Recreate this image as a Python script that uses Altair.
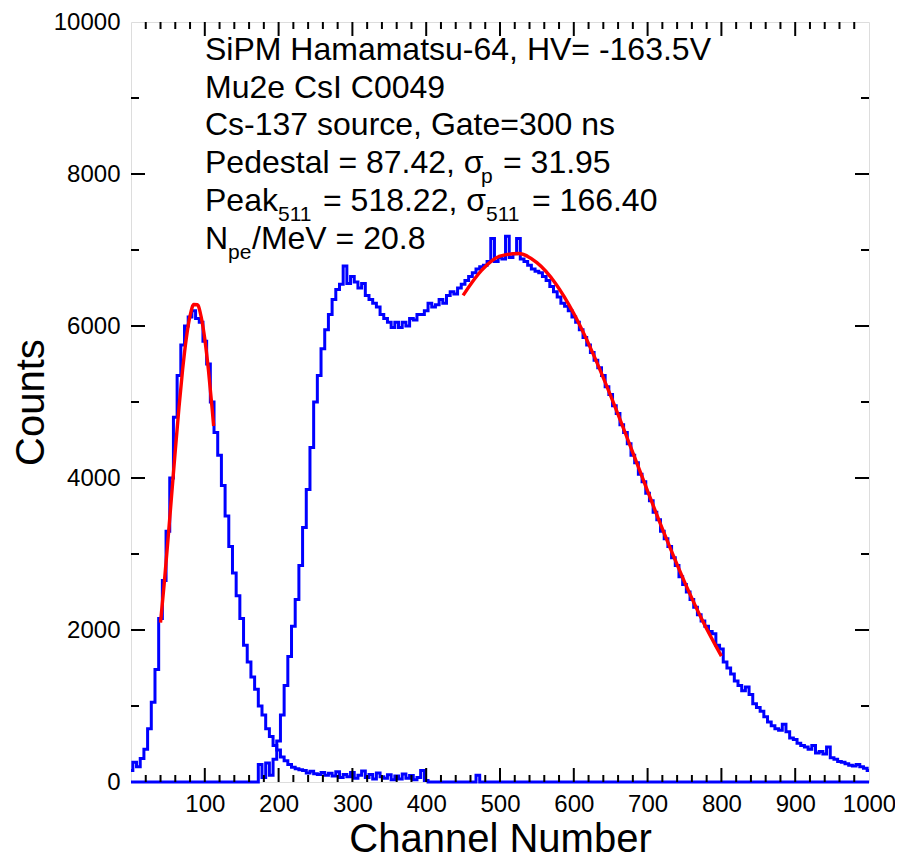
import altair as alt
import pandas as pd

FONT = "Liberation Sans"

# ---------------- data ----------------
# pedestal run (blue, left peak)
ped_ch = [0, 5, 10, 15, 20, 25, 30, 35, 40, 45,
          50, 55, 60, 65, 70, 75, 80, 85, 90, 95,
          100, 105, 110, 115, 120, 125, 130, 135, 140, 145,
          150, 155, 160, 165, 170, 175, 180, 185, 190, 195,
          200, 205, 210, 215, 220, 225, 230, 235, 240, 245,
          250, 255, 260, 265, 270, 275, 280, 285, 290, 295,
          300, 305, 310, 315, 320, 325, 330, 335, 340, 345,
          350, 355, 360, 365, 370, 375, 380, 385, 390, 395,
          400, 405, 465, 470, 475, 1000]
ped_counts = [150, 260, 200, 310, 430, 700, 1050, 1480, 2150, 2650,
              3300, 4000, 4800, 5350, 5750, 6000, 6120, 6200, 6100, 6050,
              5800, 5500, 5000, 4600, 4300, 3900, 3500, 3100, 2750, 2450,
              2150, 1800, 1580, 1380, 1220, 1000, 880, 700, 600, 480,
              420, 330, 280, 230, 195, 175, 160, 150, 120, 140,
              110, 100, 125, 90, 115, 80, 135, 60, 100, 70,
              125, 50, 90, 145, 60, 100, 40, 120, 70, 50,
              95, 30, 80, 40, 105, 50, 85, 30, 60, 150,
              20, 0, 0, 90, 0, 0]

# Cs-137 source run (blue, right spectrum)
src_ch = [0, 170,
          175, 180, 185, 190, 195, 200, 205, 210, 215, 220,
          225, 230, 235, 240, 245, 250, 255, 260, 265, 270,
          275, 280, 285, 290, 295, 300, 305, 310, 315, 320,
          325, 330, 335, 340, 345, 350, 355, 360, 365, 370,
          375, 380, 385, 390, 395, 400, 405, 410, 415, 420,
          425, 430, 435, 440, 445, 450, 455, 460, 465, 470,
          475, 480, 485, 490, 495, 500, 505, 510, 515, 520,
          525, 530, 535, 540, 545, 550, 555, 560, 565, 570,
          575, 580, 585, 590, 595, 600, 605, 610, 615, 620,
          625, 630, 635, 640, 645, 650, 655, 660, 665, 670,
          675, 680, 685, 690, 695, 700, 705, 710, 715, 720,
          725, 730, 735, 740, 745, 750, 755, 760, 765, 770,
          775, 780, 785, 790, 795, 800, 805, 810, 815, 820,
          825, 830, 835, 840, 845, 850, 855, 860, 865, 870,
          875, 880, 885, 890, 895, 900, 905, 910, 915, 920,
          925, 930, 935, 940, 945, 950, 955, 960, 965, 970,
          975, 980, 985, 990, 995, 1000]
src_counts = [0, 0,
              230, 60, 250, 90, 300, 540, 880, 1270, 1650, 2050,
              2400, 2850, 3350, 3850, 4400, 5000, 5350, 5700, 5950, 6150,
              6350, 6480, 6550, 6790, 6560, 6650, 6580, 6500, 6560, 6400,
              6350, 6300, 6250, 6150, 6100, 6050, 5980, 6050, 5980, 6050,
              6000, 6100, 6080, 6150, 6150, 6200, 6300, 6250, 6280, 6350,
              6300, 6400, 6450, 6420, 6500, 6550, 6600, 6650, 6700, 6750,
              6780, 6800, 6850, 7150, 6850, 6900, 6880, 7180, 6900, 6950,
              7150, 6880, 6850, 6800, 6750, 6720, 6700, 6650, 6600, 6520,
              6450, 6380, 6300, 6260, 6200, 6120, 6050, 5950, 5850, 5750,
              5650, 5550, 5450, 5350, 5200, 5100, 4950, 4850, 4700, 4600,
              4450, 4300, 4200, 4050, 3950, 3800, 3700, 3550, 3450, 3300,
              3200, 3100, 2950, 2850, 2700, 2600, 2500, 2400, 2300, 2200,
              2120, 2050, 1980, 1950, 1800, 1750, 1580, 1500, 1420, 1330,
              1270, 1200, 1250, 1150, 1030, 980, 930, 860, 790, 740,
              700, 680, 760, 660, 580, 560, 510, 480, 460, 430,
              480, 380, 400, 370, 460, 320, 300, 270, 260, 240,
              220, 210, 230, 200, 180, 150]

# red fit curves
fit_ped_ch = [40, 45, 50, 55, 60, 65, 70, 75, 80, 85, 90, 95, 100, 105, 110, 112]
fit_ped_counts = [2096, 2611, 3175, 3767, 4361, 4927, 5432, 5843, 6133, 6282,
                  6279, 6124, 5828, 5412, 4906, 4684]
fit_pk_ch = [450, 475, 500, 525, 550, 575, 600, 625, 650, 675, 700, 725, 750, 775, 800]
fit_pk_counts = [6403, 6731, 6919, 6954, 6833, 6563, 6164, 5660, 5081, 4460,
                 3827, 3211, 2634, 2112, 1656]

# axis ticks / labels
x_labels = [100, 200, 300, 400, 500, 600, 700, 800, 900, 1000]
y_labels = [0, 2000, 4000, 6000, 8000, 10000]
x_major = [100, 200, 300, 400, 500, 600, 700, 800, 900]
x_minor = [20, 40, 60, 80, 120, 140, 160, 180, 220, 240, 260, 280, 320, 340, 360, 380,
           420, 440, 460, 480, 520, 540, 560, 580, 620, 640, 660, 680, 720, 740, 760, 780,
           820, 840, 860, 880, 920, 940, 960, 980]
y_major = [2000, 4000, 6000, 8000]
y_minor = [1000, 3000, 5000, 7000, 9000]

W, H = 738, 760

# ---------------- scales / axes ----------------
xs = alt.Scale(domain=[0, 1000], nice=False, zero=False)
ys = alt.Scale(domain=[0, 10000], nice=False)

X = alt.X("ch:Q", scale=xs, axis=alt.Axis(
    values=x_labels, format="d", ticks=False, domain=False, grid=False,
    labelFont=FONT, labelFontSize=24, labelColor="black", labelPadding=10,
    labelFlush=False, labelOverlap=False,
    title="Channel Number", titleFont=FONT, titleFontSize=40, titleFontWeight="normal",
    titleColor="black", titleY=69, titleBaseline="alphabetic"))
Y = alt.Y("counts:Q", scale=ys, axis=alt.Axis(
    values=y_labels, format="d", ticks=False, domain=False, grid=False,
    labelFont=FONT, labelFontSize=24, labelColor="black", labelPadding=11,
    labelFlush=False, labelOverlap=False,
    title="Counts", titleFont=FONT, titleFontSize=40, titleFontWeight="normal",
    titleColor="black", titleX=-88, titleY=H / 2, titleAngle=270,
    titleBaseline="alphabetic", titleAlign="center"))

ped = pd.DataFrame({"ch": ped_ch, "counts": ped_counts})
src = pd.DataFrame({"ch": src_ch, "counts": src_counts})
fped = pd.DataFrame({"ch": fit_ped_ch, "counts": fit_ped_counts})
fpk = pd.DataFrame({"ch": fit_pk_ch, "counts": fit_pk_counts})

layers = []
layers.append(alt.Chart(ped).mark_line(color="#0000ff", strokeWidth=3, interpolate="step")
              .encode(x=X, y=Y))
layers.append(alt.Chart(src).mark_line(color="#0000ff", strokeWidth=3, interpolate="step")
              .encode(x=X, y=Y))
layers.append(alt.Chart(fped).mark_line(color="#ff0000", strokeWidth=3.4, interpolate="monotone")
              .encode(x=X, y=Y))
layers.append(alt.Chart(fpk).mark_line(color="#ff0000", strokeWidth=3.4, interpolate="monotone")
              .encode(x=X, y=Y))

# inward ticks on all four sides
def xticks(vals, length):
    d = pd.DataFrame({"ch": vals})
    bot = alt.Chart(d).mark_rule(color="black", strokeWidth=2).encode(
        x=X, y=alt.value(H), y2=alt.value(H - length))
    top = alt.Chart(d).mark_rule(color="black", strokeWidth=2).encode(
        x=X, y=alt.value(0), y2=alt.value(length))
    return [bot, top]

def yticks(vals, length):
    d = pd.DataFrame({"counts": vals})
    lef = alt.Chart(d).mark_rule(color="black", strokeWidth=2).encode(
        y=Y, x=alt.value(0), x2=alt.value(length))
    rig = alt.Chart(d).mark_rule(color="black", strokeWidth=2).encode(
        y=Y, x=alt.value(W), x2=alt.value(W - length))
    return [lef, rig]

layers += xticks(x_major, 14) + xticks(x_minor, 7)
layers += yticks(y_major, 14) + yticks(y_minor, 8)

# annotation text (pixel positions inside plot area), with subscripts
notes = [
    ("SiPM Hamamatsu-64, HV= -163.5V", 74, 38, 32),
    ("Mu2e CsI C0049", 74, 76, 32),
    ("Cs-137 source, Gate=300 ns", 74, 113, 32),
    ("Pedestal = 87.42, σ", 74, 151, 32),
    ("p", 350, 161, 21),
    ("= 31.95", 372, 151, 32),
    ("Peak", 74, 189, 32),
    ("511", 147, 199, 21),
    ("= 518.22, σ", 192, 189, 32),
    ("511", 355, 199, 21),
    ("= 166.40", 401, 189, 32),
    ("N", 74, 227, 32),
    ("pe", 97, 237, 21),
    ("/MeV = 20.8", 121, 227, 32),
]
for txt, px, py, fs in notes:
    layers.append(alt.Chart(pd.DataFrame({"t": [txt]})).mark_text(
        align="left", baseline="alphabetic", font=FONT, fontSize=fs, color="black"
    ).encode(text="t:N", x=alt.value(px), y=alt.value(py)))

chart = alt.layer(*layers).properties(
    width=W, height=H,
    padding={"left": 123, "top": 14, "right": 26, "bottom": 71},
    autosize=alt.AutoSizeParams(type="none"),
).configure_view(stroke="black", strokeWidth=2.5).configure(background="white")

chart.save("out.html", embed_options={"renderer": "svg", "actions": False})
